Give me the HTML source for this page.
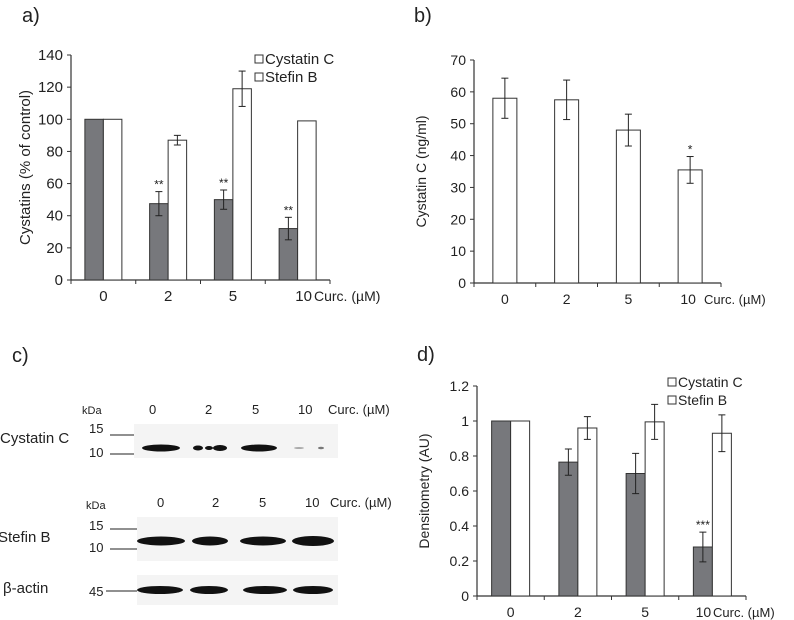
<!DOCTYPE html>
<html><head><meta charset="utf-8"><style>
html,body{margin:0;padding:0;background:#fff;}
svg{display:block;font-family:"Liberation Sans",Arial,sans-serif;}
</style></head><body>
<svg id="fig" width="794" height="620" viewBox="0 0 794 620">
<g font-size="20" fill="#222">
<text x="22" y="22">a)</text>
<text x="414" y="22">b)</text>
<text x="12" y="362">c)</text>
<text x="417" y="361">d)</text>
</g>
<g id="pa"></g>
<g id="pb"></g>
<g id="pd"></g>
<g id="pc" fill="#222">
<text x="82" y="414" font-size="11">kDa</text>
<text x="149" y="414" font-size="13">0</text>
<text x="205" y="414" font-size="13">2</text>
<text x="252" y="414" font-size="13">5</text>
<text x="298" y="414" font-size="13">10</text>
<text x="328" y="414" font-size="13">Curc. (µM)</text>
<text x="0" y="443" font-size="15">Cystatin C</text>
<text x="89" y="433" font-size="13">15</text>
<text x="89" y="457" font-size="13">10</text>
<line x1="110" y1="435" x2="136" y2="435" stroke="#222"/>
<line x1="110" y1="454" x2="136" y2="454" stroke="#222"/>
<rect x="134" y="424" width="204" height="34" fill="#f4f4f4"/>
<ellipse cx="161" cy="448" rx="19" ry="3.5" fill="#111"/>
<ellipse cx="198" cy="448" rx="5" ry="2.5" fill="#111"/>
<ellipse cx="209" cy="448" rx="4" ry="2" fill="#111"/>
<ellipse cx="220" cy="448" rx="7" ry="3" fill="#111"/>
<ellipse cx="259" cy="448" rx="18" ry="3.5" fill="#111"/>
<ellipse cx="299" cy="448" rx="5" ry="1" fill="#aaa"/>
<ellipse cx="321" cy="448" rx="3" ry="1.2" fill="#777"/>
<text x="86" y="509" font-size="11">kDa</text>
<text x="157" y="507" font-size="13">0</text>
<text x="212" y="507" font-size="13">2</text>
<text x="259" y="507" font-size="13">5</text>
<text x="305" y="507" font-size="13">10</text>
<text x="330" y="507" font-size="13">Curc. (µM)</text>
<text x="-2" y="542" font-size="15">Stefin B</text>
<text x="89" y="530" font-size="13">15</text>
<text x="89" y="552" font-size="13">10</text>
<line x1="110" y1="529" x2="137" y2="529" stroke="#222"/>
<line x1="110" y1="549" x2="137" y2="549" stroke="#222"/>
<rect x="137" y="517" width="201" height="44" fill="#f4f4f4"/>
<ellipse cx="161" cy="541" rx="24" ry="4.5" fill="#111"/>
<ellipse cx="210" cy="541" rx="18" ry="4.5" fill="#111"/>
<ellipse cx="263" cy="541" rx="23" ry="4.5" fill="#111"/>
<ellipse cx="313" cy="541" rx="21" ry="5" fill="#111"/>
<text x="3" y="593" font-size="15">β-actin</text>
<text x="89" y="596" font-size="13">45</text>
<line x1="106" y1="591" x2="137" y2="591" stroke="#222"/>
<rect x="137" y="575" width="201" height="30" fill="#f4f4f4"/>
<ellipse cx="160" cy="590" rx="23" ry="4" fill="#111"/>
<ellipse cx="209" cy="590" rx="19" ry="4" fill="#111"/>
<ellipse cx="265" cy="590" rx="22" ry="4" fill="#111"/>
<ellipse cx="313" cy="590" rx="20" ry="4" fill="#111"/>
</g>
</svg>
<script>
const categories = ["0","2","5","10"];
const aCystatin = [100, 47.5, 50, 32];
const aCystatinErr = [0, 7.5, 6, 7];
const aStefin = [100, 87, 119, 99];
const aStefinErr = [0, 3, 11, 0];
const aStars = ["", "**", "**", "**"];
const aTicks = [0,20,40,60,80,100,120,140];
const bValues = [58, 57.5, 48, 35.5];
const bErr = [6.3, 6.2, 5, 4.2];
const bStars = ["", "", "", "*"];
const bTicks = [0,10,20,30,40,50,60,70];
const dCystatin = [1, 0.765, 0.7, 0.28];
const dCystatinErr = [0, 0.075, 0.115, 0.085];
const dStefin = [1, 0.96, 0.995, 0.93];
const dStefinErr = [0, 0.065, 0.1, 0.105];
const dStars = ["", "", "", "***"];
const dTicks = ["0","0.2","0.4","0.6","0.8","1","1.2"];
const NS="http://www.w3.org/2000/svg";
function mk(p,tag,attrs){const e=document.createElementNS(NS,tag);for(const k in attrs)e.setAttribute(k,attrs[k]);p.appendChild(e);return e;}
function chart(g,o){
  const y=v=>o.y0-(v-o.min)/(o.max-o.min)*(o.y0-o.y1);
  const gw=(o.x1-o.x0)/categories.length;
  const ya=mk(g,'line',{x1:o.x0,y1:o.y1,x2:o.x0,y2:o.y0,stroke:'#333','stroke-width':1.2});
  
  
  const xa=mk(g,'line',{x1:o.x0,y1:o.y0,x2:o.x1,y2:o.y0,stroke:'#333','stroke-width':1.2});
  
  
  o.ticks.forEach(t=>{const v=parseFloat(t);const yy=y(v);
    mk(g,'line',{x1:o.x0-4,y1:yy,x2:o.x0,y2:yy,stroke:'#333'});
    const tx=mk(g,'text',{x:o.x0-8,y:yy+5,'text-anchor':'end','font-size':o.fs,fill:'#222'});tx.textContent=t;
    
    
  });
  for(let i=0;i<=categories.length;i++){const xx=o.x0+i*gw;mk(g,'line',{x1:xx,y1:o.y0,x2:xx,y2:o.y0+4,stroke:'#333'});}
  categories.forEach((c,i)=>{const cx=o.x0+(i+0.5)*gw+(i===categories.length-1?o.lastDx:0);
    const tx=mk(g,'text',{x:cx,y:o.y0+21,'text-anchor':'middle','font-size':o.fs,fill:'#222'});tx.textContent=c;
    
    
  });
  const cu=mk(g,'text',{x:o.x1+o.curcDx,y:o.y0+21,'text-anchor':'start','font-size':o.fs-1,fill:'#222'});cu.textContent='Curc. (µM)';
  
  
  const yt=mk(g,'text',{x:0,y:0,'text-anchor':'middle','font-size':o.tfs,fill:'#222',transform:`translate(${o.titleX},${(o.y0+o.y1)/2}) rotate(-90)`});yt.textContent=o.title;
  
  
  o.series.forEach((s,si)=>{
    s.vals.forEach((v,i)=>{const cx=o.x0+(i+0.5)*gw;const bx=cx+s.off;
      const r=mk(g,'rect',{x:bx,y:y(v),width:o.bw,height:o.y0-y(v),fill:s.fill,stroke:'#333','stroke-width':1});
      
      
      const e=s.err[i];const mx=bx+o.bw/2;
      if(e>0){mk(g,'line',{x1:mx,y1:y(v+e),x2:mx,y2:y(v-e),stroke:'#222'});
        mk(g,'line',{x1:mx-3.5,y1:y(v+e),x2:mx+3.5,y2:y(v+e),stroke:'#222'});
        mk(g,'line',{x1:mx-3.5,y1:y(v-e),x2:mx+3.5,y2:y(v-e),stroke:'#222'});}
      if(s.stars&&s.stars[i]){const st=mk(g,'text',{x:mx,y:y(v+e)-3,'text-anchor':'middle','font-size':12,fill:'#222'});st.textContent=s.stars[i];
        
        }
    });
  });
  if(o.legend){o.legend.forEach((l,i)=>{const ly=o.legY+i*18;
    const sq=mk(g,'rect',{x:o.legX,y:ly-9,width:8,height:8,fill:'#fff',stroke:'#333'});
    
    
    const lt=mk(g,'text',{x:o.legX+10,y:ly,'font-size':o.fs,fill:'#222'});lt.textContent=l;
    
    });}
}
chart(document.getElementById('pa'),{x0:71,x1:330,y0:280,y1:55,min:0,max:140,ticks:aTicks.map(String),fs:15,tfs:15,titleX:30,bw:18.5,curcDx:-16,lastDx:6,title:'Cystatins (% of control)',
  series:[{name:'cystatin-c',vals:aCystatin,err:aCystatinErr,fill:'#77787c',off:-18.5,stars:aStars},{name:'stefin-b',vals:aStefin,err:aStefinErr,fill:'#fff',off:0}],
  legend:['Cystatin C','Stefin B'],legX:255,legY:64});
chart(document.getElementById('pb'),{x0:474,x1:721,y0:283,y1:60,min:0,max:70,ticks:bTicks.map(String),fs:14,tfs:14,titleX:426,bw:24,curcDx:-17,lastDx:-2,title:'Cystatin C (ng/ml)',
  series:[{name:'cystatin-c',vals:bValues,err:bErr,fill:'#fff',off:-12,stars:bStars}]});
chart(document.getElementById('pd'),{x0:477,x1:746,y0:596,y1:386,min:0,max:1.2,ticks:dTicks,fs:14,tfs:14,titleX:429,bw:19,curcDx:-33,lastDx:-9,title:'Densitometry (AU)',
  series:[{name:'cystatin-c',vals:dCystatin,err:dCystatinErr,fill:'#77787c',off:-19,stars:dStars},{name:'stefin-b',vals:dStefin,err:dStefinErr,fill:'#fff',off:0}],
  legend:['Cystatin C','Stefin B'],legX:668,legY:387});
</script>
</body></html>
